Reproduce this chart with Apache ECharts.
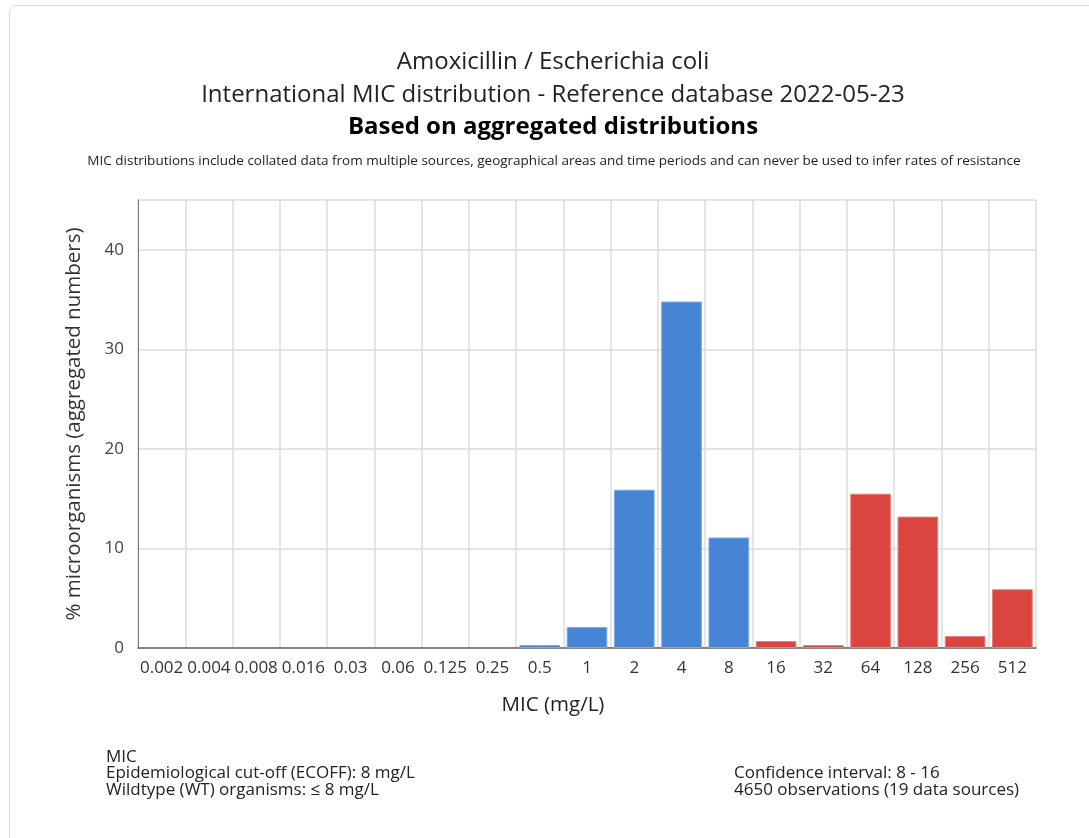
<!DOCTYPE html>
<html>
<head>
<meta charset="utf-8">
<script src="https://cdn.jsdelivr.net/npm/echarts@6/dist/echarts.min.js"></script>
<style>
  html, body { margin: 0; padding: 0; background: #fff; width: 1089px; height: 838px; overflow: hidden; }
  #card { position: absolute; left: 9px; top: 5px; width: 1100px; height: 860px; border: 1.5px solid #dedede; border-radius: 7px; box-shadow: 0 0 2px rgba(0,0,0,0.06); }
  #chart { position: absolute; left: 0; top: 0; width: 1089px; height: 838px; }
</style>
</head>
<body>
<div id="card"></div>
<div id="chart"></div>
<script>
// MIC dilution steps (mg/L)
const micLabels = ['0.002', '0.004', '0.008', '0.016', '0.03', '0.06', '0.125', '0.25', '0.5', '1', '2', '4', '8', '16', '32', '64', '128', '256', '512'];
// % of isolates, wild type (MIC <= ECOFF)
const wildType = [null, null, null, null, null, null, null, null, 0.3, 2.1, 15.9, 34.8, 11.1, null, null, null, null, null, null];
// % of isolates, non-wild type (MIC > ECOFF)
const nonWildType = [null, null, null, null, null, null, null, null, null, null, null, null, null, 0.7, 0.3, 15.5, 13.2, 1.2, 5.9];
const yTicks = [0, 10, 20, 30, 40];

const titleLines = [
  'Amoxicillin / Escherichia coli',
  'International MIC distribution - Reference database 2022-05-23'
];
const subTitle = 'Based on aggregated distributions';
const note = 'MIC distributions include collated data from multiple sources, geographical areas and time periods and can never be used to infer rates of resistance';
const footLeft = ['MIC', 'Epidemiological cut-off (ECOFF): 8 mg/L', 'Wildtype (WT) organisms: \u2264 8 mg/L'];
const footRight = ['Confidence interval: 8 - 16', '4650 observations (19 data sources)'];

const FONT = '"Open Sans", "Noto Sans", sans-serif';
const chart = echarts.init(document.getElementById('chart'), null, { renderer: 'canvas' });

const text = (x, y, str, size, extra) => ({
  type: 'text', x: x, y: y,
  style: Object.assign({ text: str, font: size + 'px ' + FONT, fill: '#222', textAlign: 'center', textVerticalAlign: 'middle' }, extra || {})
});

const graphics = [
  text(553, 62, titleLines[0], 24),
  text(553, 95, titleLines[1], 24),
  text(553, 127, subTitle, 24, { font: 'bold 24px ' + FONT, fill: '#000' }),
  text(554, 161, note, 13.5, { fill: '#222' }),
  text(553, 705, 'MIC (mg/L)', 20.5, { fill: '#222' })
];
footLeft.forEach((s, i) => graphics.push(text(106, 757 + i * 16.5, s, 17, { textAlign: 'left', fill: '#222' })));
footRight.forEach((s, i) => graphics.push(text(734, 773.5 + i * 16.5, s, 17, { textAlign: 'left', fill: '#222' })));

chart.setOption({
  animation: false,
  textStyle: { fontFamily: FONT },
  grid: { left: 138, right: 53, top: 200, bottom: 190, containLabel: false },
  xAxis: {
    type: 'category',
    data: micLabels,
    boundaryGap: true,
    axisLine: { show: true, lineStyle: { color: '#666', width: 1.5 } },
    axisTick: { show: false },
    axisLabel: { color: '#333', fontSize: 17, margin: 12, interval: 0 },
    splitLine: { show: true, interval: 0, lineStyle: { color: '#dcdcdc', width: 1.5 } }
  },
  yAxis: {
    type: 'value',
    min: 0, max: 45, interval: 10,
    name: '% microorganisms (aggregated numbers)',
    nameLocation: 'middle',
    nameGap: 53,
    nameTextStyle: { color: '#333', fontSize: 20.5, fontFamily: FONT },
    axisLine: { show: true, lineStyle: { color: '#777', width: 1 } },
    axisTick: { show: false },
    axisLabel: {
      color: '#444', fontSize: 17, margin: 14,
      formatter: v => (yTicks.indexOf(v) >= 0 ? String(v) : '')
    },
    splitLine: { show: true, lineStyle: { color: '#dcdcdc', width: 1.5 } }
  },
  series: [
    {
      name: 'WT', type: 'bar', data: wildType,
      barCategoryGap: '14%', barGap: '-100%',
      itemStyle: { color: '#4685d5', borderColor: '#7aa9e6', borderWidth: 1 }
    },
    {
      name: 'Non-WT', type: 'bar', data: nonWildType,
      barCategoryGap: '14%', barGap: '-100%',
      itemStyle: { color: '#da4540', borderColor: '#e9807c', borderWidth: 1 }
    }
  ],
  graphic: graphics
});
</script>
</body>
</html>
